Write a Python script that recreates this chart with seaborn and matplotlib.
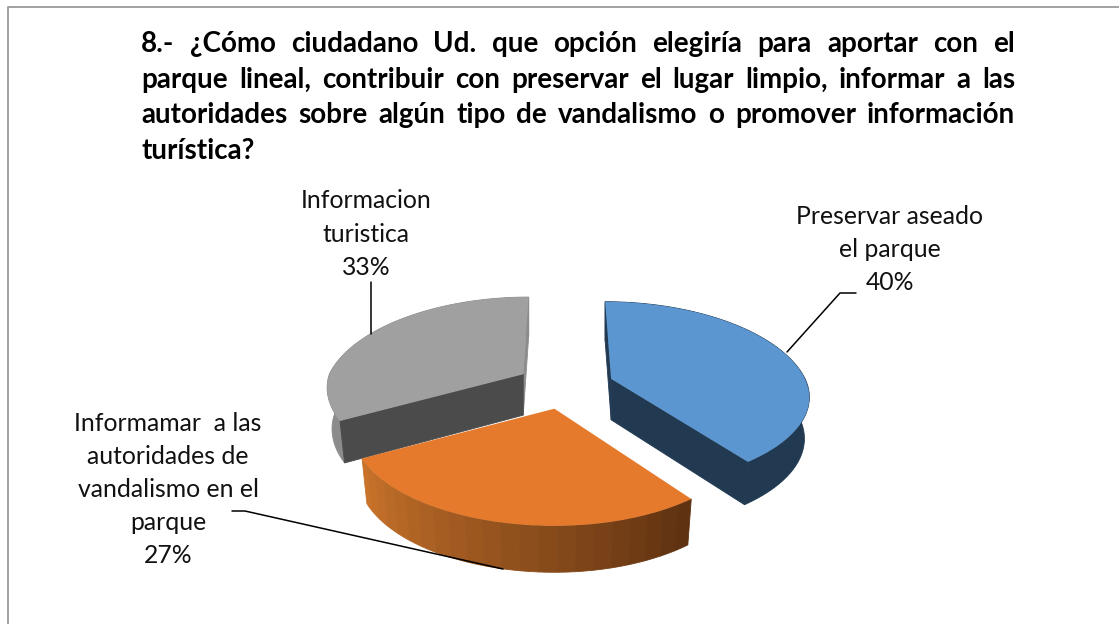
import numpy as np
import matplotlib
matplotlib.use("Agg")
import matplotlib.pyplot as plt
import seaborn as sns
from matplotlib.transforms import Transform

# chart data
shares = [40, 27, 33]
label_lines = [
    ["Preservar aseado", "el parque"],
    ["Informamar  a las", "autoridades de", "vandalismo en el", "parque"],
    ["Informacion", "turistica"],
]
title_lines = [
    "8.- ¿Cómo ciudadano Ud. que opción elegiría para aportar con el",
    "parque lineal, contribuir con preservar el lugar limpio, informar a las",
    "autoridades sobre algún tipo de vandalismo o promover información",
    "turística?",
]

top_colors = sns.color_palette(["#5b96d0", "#e57a2c", "#a0a0a0"])
rim_colors = ["#213a52", None, "#8c8c8c"]
cut_colors = ["#213a52", None, "#4b4b4b"]
back_colors = ["#213a52", None, "#8c8c8c"]
orange_rim_right = np.array(matplotlib.colors.to_rgb("#5c3010"))
orange_rim_left = np.array(matplotlib.colors.to_rgb("#cc752b"))

# picture layout in pixels
W, H = 1119, 624
CX, CY = 565, 386
RX, RY = 194, 93
PERSPECTIVE = 0.206
CONVERGE = 0.13
SHRINK = 0.025
EXPLODE = 0.25
depths = [41, 44, 41]
near_x = [1.0, 1.02, 0.97]
near_y = [0.92, 1.0, 0.94]


class PieProjection(Transform):
    # tilts the flat pie into the 3d look of the original, each slice around its own apex
    input_dims = 2
    output_dims = 2

    def __init__(self, center, slice_no, level=0.0):
        super().__init__()
        self.center = center
        self.slice_no = slice_no
        self.level = level

    def transform_non_affine(self, values):
        values = np.asarray(values, dtype=float)
        x = values[:, 0] - self.center[0]
        y = values[:, 1] - self.center[1]
        s = 1 / (1 + PERSPECTIVE * y)
        sz = s * (1 - SHRINK * self.level)
        front = np.clip(-2 * y, 0, 1)
        fx = np.where(x < 0, 1 + (near_x[self.slice_no] - 1) * front, 1.0)
        fy = np.where(y < 0, near_y[self.slice_no], 1.0)
        cx = self.center[0] * (1 - CONVERGE * np.clip(y, 0, 1))
        px = CX + RX * (cx + x * sz * fx)
        py = CY - RY * (self.center[1] + y * sz * fy) + depths[self.slice_no] * self.level * np.sqrt(s)
        return np.column_stack([px, py])


def wall_quad(ax, wedge, slice_no, points, color, zorder):
    pts = np.array(points)
    up = PieProjection(wedge.center, slice_no, 0.0).transform_non_affine(pts)
    down = PieProjection(wedge.center, slice_no, 1.0).transform_non_affine(pts)[::-1]
    outline = np.vstack([up, down])
    ax.fill(outline[:, 0], outline[:, 1], color=color, lw=0.6, zorder=zorder)


def rim_point(wedge, angle):
    a = np.radians(angle)
    return wedge.center[0] + np.cos(a), wedge.center[1] + np.sin(a)


sns.set_theme(style="white")
plt.rcParams["font.family"] = ["Lato", "DejaVu Sans"]

fig = plt.figure(figsize=(W / 100, H / 100), dpi=100, facecolor="white")
ax = fig.add_axes([0, 0, 1, 1])

wedges, _ = ax.pie(shares, explode=[EXPLODE] * len(shares), startangle=90, counterclock=False,
                   colors=top_colors, wedgeprops={"linewidth": 0})
ax.set_aspect("auto")
ax.set_xlim(0, W)
ax.set_ylim(H, 0)
ax.axis("off")

draw_order = {0: 2, 1: 3, 2: 1}
for i, wedge in enumerate(wedges):
    z = draw_order[i]
    wedge.set_transform(PieProjection(wedge.center, i) + ax.transData)
    wedge.set_zorder(z + 0.5)
    wedge.set_clip_on(False)

    # rim of the slice, the orange one in bands so it can shade across
    n_bands = 1 if rim_colors[i] else 22
    edges = np.linspace(wedge.theta1, wedge.theta2, n_bands + 1)
    for b in range(n_bands):
        arc = [rim_point(wedge, a) for a in np.linspace(edges[b], edges[b + 1], 60 // n_bands + 2)]
        if rim_colors[i]:
            color = rim_colors[i]
        else:
            t = (b + 0.5) / n_bands
            color = orange_rim_left + (orange_rim_right - orange_rim_left) * t
        wall_quad(ax, wedge, i, arc, color, z)

    # the flat cut faces, front one last
    if cut_colors[i]:
        back_angle, cut_angle = max(wedge.theta1, wedge.theta2), min(wedge.theta1, wedge.theta2)
        if i == 2:
            back_angle, cut_angle = cut_angle, back_angle
        wall_quad(ax, wedge, i, [wedge.center, rim_point(wedge, back_angle)], back_colors[i], z + 0.1)
        wall_quad(ax, wedge, i, [wedge.center, rim_point(wedge, cut_angle)], cut_colors[i], z + 0.2)

# left and top edge of the chart frame
ax.plot([8, 8, W], [H, 7, 7], color="#9a9a9a", lw=1.3, zorder=0)

# leader lines
line_style = {"color": "black", "lw": 1.1, "zorder": 6}
ax.plot([371, 371], [282, 334], **line_style)
ax.plot([787, 840, 856], [352, 293, 293], **line_style)
ax.plot([232, 245, 503], [511, 511, 569], **line_style)

# data labels
label_spots = [(890, 224, 33), (168, 431, 33), (366, 208, 33.5)]
for lines, share, (x, y, step) in zip(label_lines, shares, label_spots):
    for k, line in enumerate(lines + [f"{share}%"]):
        ax.text(x, y + k * step, line, ha="center", va="baseline", fontsize=17.8, color="#111111")

# justified title, word by word
title_left, title_right = 141, 1015
title_base = [52, 88, 123, 159]
renderer = fig.canvas.get_renderer()
for line, base in zip(title_lines, title_base):
    words = line.split()
    items = [ax.text(title_left, base, w, ha="left", va="baseline", fontsize=20, fontweight="bold",
                     color="black") for w in words]
    widths = [it.get_window_extent(renderer).width for it in items]
    if len(words) > 1:
        gap = (title_right - title_left - sum(widths)) / (len(words) - 1)
        x = title_left
        for it, width in zip(items, widths):
            it.set_x(x)
            x += width + gap

fig.savefig("out.png", dpi=100, facecolor="white")
